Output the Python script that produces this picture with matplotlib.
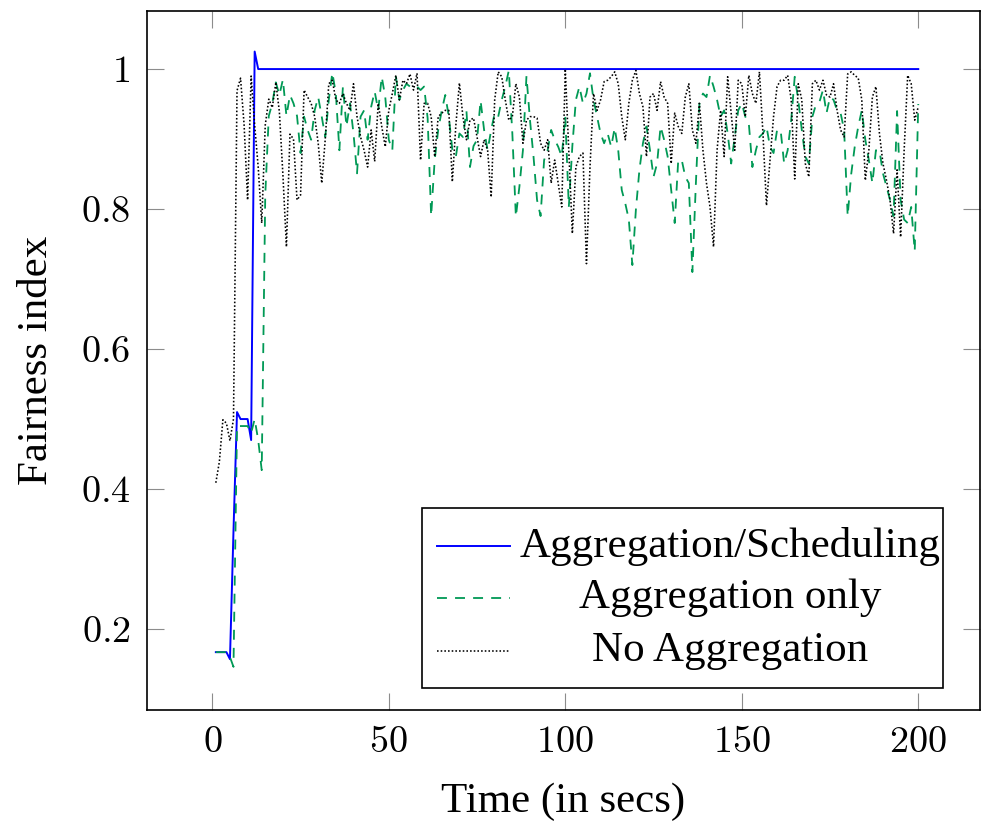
import matplotlib
matplotlib.use('Agg')
import matplotlib.pyplot as plt
from matplotlib.lines import Line2D
from matplotlib.patches import Rectangle
from matplotlib.ticker import FixedLocator, FuncFormatter

plt.rcParams['mathtext.fontset'] = 'cm'
plt.rcParams['font.family'] = ['Liberation Serif', 'DejaVu Serif']

time = list(range(1, 201))

agg_sched = ([0.167, 0.167, 0.167, 0.167, 0.157, 0.34, 0.51, 0.50, 0.50, 0.50,
              0.47, 1.025, 1.0] + [1.0] * 187)

agg_only = [
    0.167, 0.167, 0.167, 0.167, 0.160, 0.146, 0.49, 0.49, 0.49, 0.49,
    0.48, 0.50, 0.47, 0.427, 0.82, 0.933, 0.951, 0.981, 0.963, 0.985,
    0.933, 0.963, 0.951, 0.933, 0.88, 0.932, 0.913, 0.899, 0.941, 0.96,
    0.932, 0.903, 0.956, 0.995, 0.965, 0.884, 0.975, 0.918, 0.951, 0.908,
    0.851, 0.932, 0.941, 0.899, 0.946, 0.968, 0.941, 0.989, 0.96, 0.899,
    0.884, 0.989, 0.956, 0.97, 0.979, 0.975, 0.977, 0.975, 0.97, 0.975,
    0.93, 0.79, 0.87, 0.913, 0.941, 0.963, 0.932, 0.885, 0.875, 0.908,
    0.903, 0.94, 0.86, 0.89, 0.899, 0.955, 0.913, 0.884, 0.913, 0.937,
    0.932, 0.956, 0.975, 0.998, 0.908, 0.789, 0.832, 0.884, 0.99, 0.927,
    0.875, 0.813, 0.79, 0.87, 0.884, 0.913, 0.899, 0.889, 0.875, 0.932,
    0.803, 0.89, 0.956, 0.975, 0.951, 0.965, 0.994, 0.956, 0.932, 0.908,
    0.894, 0.908, 0.889, 0.916, 0.884, 0.827, 0.808, 0.785, 0.72, 0.799,
    0.856, 0.894, 0.918, 0.884, 0.846, 0.865, 0.918, 0.899, 0.875, 0.827,
    0.78, 0.87, 0.87, 0.846, 0.837, 0.71, 0.837, 0.951, 0.965, 0.96,
    0.991, 0.975, 0.956, 0.932, 0.941, 0.908, 0.865, 0.903, 0.941, 0.951,
    0.932, 0.922, 0.86, 0.884, 0.903, 0.908, 0.918, 0.889, 0.88, 0.913,
    0.913, 0.865, 0.884, 0.927, 0.989, 0.956, 0.913, 0.875, 0.865, 0.932,
    0.949, 0.953, 0.97, 0.937, 0.96, 0.956, 0.941, 0.937, 0.913, 0.79,
    0.85, 0.889, 0.918, 0.941, 0.899, 0.87, 0.837, 0.884, 0.884, 0.851,
    0.832, 0.813, 0.79, 0.94, 0.813, 0.785, 0.78, 0.803, 0.74, 0.95,
]

no_agg = [
    0.409, 0.439, 0.499, 0.494, 0.469, 0.50, 0.969, 0.987, 0.921, 0.813,
    0.99, 0.92, 0.86, 0.78, 0.92, 0.957, 0.945, 0.981, 0.939, 0.849,
    0.746, 0.907, 0.90, 0.813, 0.82, 0.97, 0.96, 0.951, 0.932, 0.894,
    0.837, 0.90, 0.979, 0.984, 0.956, 0.951, 0.965, 0.951, 0.941, 0.979,
    0.932, 0.903, 0.884, 0.86, 0.913, 0.868, 0.951, 0.918, 0.889, 0.941,
    0.965, 0.991, 0.956, 0.984, 0.979, 0.993, 0.97, 0.994, 0.87, 0.951,
    0.951, 0.932, 0.875, 0.932, 0.937, 0.941, 0.941, 0.839, 0.92, 0.98,
    0.932, 0.899, 0.927, 0.93, 0.903, 0.875, 0.899, 0.884, 0.817, 0.956,
    0.996, 0.989, 0.956, 0.927, 0.932, 0.979, 0.96, 0.894, 0.927, 0.932,
    0.932, 0.93, 0.894, 0.884, 0.899, 0.837, 0.87, 0.837, 0.803, 1.0,
    0.884, 0.765, 0.86, 0.875, 0.88, 0.722, 0.86, 0.965, 0.941, 0.956,
    0.982, 0.984, 0.989, 0.996, 0.979, 0.932, 0.899, 0.951, 0.984, 0.998,
    0.965, 0.946, 0.875, 0.96, 0.965, 0.941, 0.982, 0.96, 0.951, 0.865,
    0.937, 0.918, 0.908, 0.96, 0.979, 0.913, 0.894, 0.951, 0.884, 0.837,
    0.803, 0.746, 0.884, 0.941, 0.875, 0.989, 0.937, 0.884, 0.984, 0.979,
    0.932, 0.991, 0.965, 0.951, 0.996, 0.908, 0.805, 0.87, 0.932, 0.975,
    0.984, 0.984, 0.991, 0.956, 0.843, 0.979, 0.956, 0.865, 0.846, 0.979,
    0.984, 0.97, 0.984, 0.963, 0.96, 0.979, 0.941, 0.913, 0.903, 0.993,
    0.996, 0.991, 0.987, 0.956, 0.841, 0.884, 0.96, 0.975, 0.908, 0.865,
    0.841, 0.813, 0.765, 0.856, 0.76, 0.884, 0.991, 0.979, 0.927, 0.946,
]

labels = ['Aggregation/Scheduling', 'Aggregation only', 'No Aggregation']
colors = ['#0000ff', '#009955', '#000000']
xticks = [0, 50, 100, 150, 200]
yticks = [0.2, 0.4, 0.6, 0.8, 1.0]

fig = plt.figure(figsize=(9.82, 8.24), dpi=100)
ax = fig.add_axes([0.1497, 0.1383, 0.8483, 0.8484])

styles = [dict(ls='-', lw=1.4),
          dict(ls=(0, (5.5, 4.5)), lw=1.3),
          dict(ls=(0, (1, 1.3)), lw=1.15)]
series = [agg_sched, agg_only, no_agg]
for ys, c, st in zip(series, colors, styles):
    ax.plot(time, ys, color=c, **st)

ax.set_xlim(-18.5, 217.5)
ax.set_ylim(0.0843, 1.083)
ax.xaxis.set_major_locator(FixedLocator(xticks))
ax.yaxis.set_major_locator(FixedLocator(yticks))
fmt = FuncFormatter(lambda v, _: '$%g$' % v)
ax.xaxis.set_major_formatter(fmt)
ax.yaxis.set_major_formatter(fmt)
ax.tick_params(direction='in', length=12, width=0.8, color='0.55',
               top=True, right=True, labelsize=27.5)
ax.tick_params(axis='y', pad=12)
ax.tick_params(axis='x', pad=11)
for s in ax.spines.values():
    s.set_linewidth(1.2)

ax.set_xlabel('Time (in secs)', fontsize=31, labelpad=16)
ax.set_ylabel('Fairness index', fontsize=31, labelpad=18)

# legend box (pgfplots style, centered entries)
ax.add_patch(Rectangle((0.330, 0.0315), 0.6256, 0.2575, transform=ax.transAxes,
                       fill=True, facecolor='white', edgecolor='black',
                       lw=1.2, zorder=5))
rows = [0.2346, 0.160, 0.0844]
for lab, c, st, yy in zip(labels, colors, styles, rows):
    ax.add_line(Line2D([0.3481, 0.4358], [yy, yy], transform=ax.transAxes,
                       color=c, zorder=6, **st))
    ax.text(0.700, yy, lab, transform=ax.transAxes, ha='center', va='center',
            fontsize=31, zorder=6)

fig.savefig('out.png', dpi=100)
